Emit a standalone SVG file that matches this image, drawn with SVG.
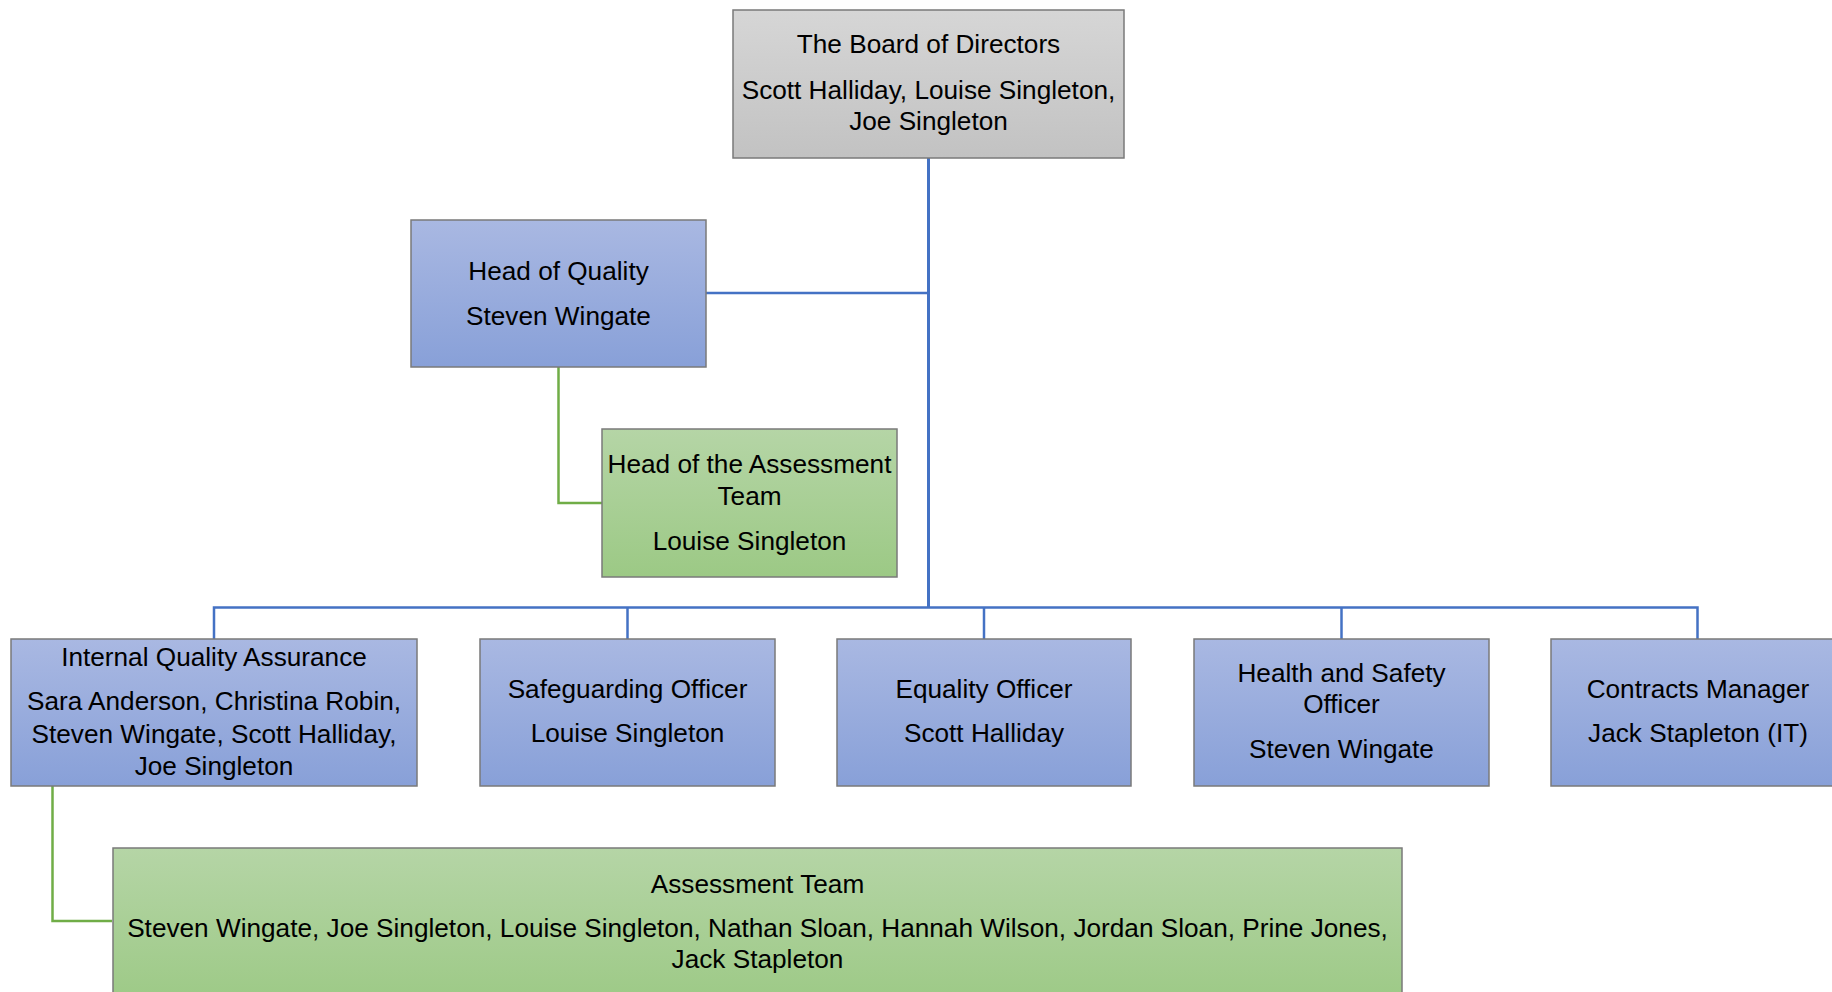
<svg xmlns="http://www.w3.org/2000/svg" width="1832" height="992" viewBox="0 0 1832 992">
<defs>
<linearGradient id="gGray" x1="0" y1="0" x2="0" y2="1"><stop offset="0" stop-color="#d6d6d6"/><stop offset="1" stop-color="#c2c2c2"/></linearGradient>
<linearGradient id="gBlue" x1="0" y1="0" x2="0" y2="1"><stop offset="0" stop-color="#a9b8e2"/><stop offset="1" stop-color="#88a0d8"/></linearGradient>
<linearGradient id="gGreen" x1="0" y1="0" x2="0" y2="1"><stop offset="0" stop-color="#b5d5a6"/><stop offset="1" stop-color="#9cc985"/></linearGradient>
<style>
.box{stroke:#7a7a7a;stroke-width:1.5}
.gray{fill:url(#gGray)}
.blue{fill:url(#gBlue)}
.green{fill:url(#gGreen)}
text{font-family:"Liberation Sans",Arial,sans-serif;font-size:26.2px;fill:#000;text-anchor:middle}
.cb{fill:none;stroke:#4472c4;stroke-width:2.5}
.cg{fill:none;stroke:#70ad47;stroke-width:2.5}
</style>
</defs>
<g id="connectors">
<path class="cb" d="M928.5 158V607.5" style="stroke-width:3"/>
<path class="cb" d="M706 293H928.5"/>
<path class="cb" d="M214 639V607.5H1697.5V639"/>
<path class="cb" d="M627.5 607.5V639"/>
<path class="cb" d="M984 607.5V639"/>
<path class="cb" d="M1341.5 607.5V639"/>
<path class="cg" d="M558.5 367V503H602"/>
<path class="cg" d="M52.5 786V921H112"/>
</g>
<g id="board">
<rect class="box gray" x="733" y="10" width="391" height="148"/>
<text x="928.5" y="53">The Board of Directors</text>
<text x="928.5" y="99">Scott Halliday, Louise Singleton,</text>
<text x="928.5" y="130">Joe Singleton</text>
</g>
<g id="head-quality">
<rect class="box blue" x="411" y="220" width="295" height="147"/>
<text x="558.5" y="280">Head of Quality</text>
<text x="558.5" y="325">Steven Wingate</text>
</g>
<g id="head-assessment">
<rect class="box green" x="602" y="429" width="295" height="148"/>
<text x="749.5" y="473">Head of the Assessment</text>
<text x="749.5" y="505">Team</text>
<text x="749.5" y="550">Louise Singleton</text>
</g>
<g id="iqa">
<rect class="box blue" x="11" y="639" width="406" height="147"/>
<text x="214" y="666">Internal Quality Assurance</text>
<text x="214" y="710">Sara Anderson, Christina Robin,</text>
<text x="214" y="743">Steven Wingate, Scott Halliday,</text>
<text x="214" y="775">Joe Singleton</text>
</g>
<g id="safeguarding">
<rect class="box blue" x="480" y="639" width="295" height="147"/>
<text x="627.5" y="698">Safeguarding Officer</text>
<text x="627.5" y="742">Louise Singleton</text>
</g>
<g id="equality">
<rect class="box blue" x="837" y="639" width="294" height="147"/>
<text x="984" y="698">Equality Officer</text>
<text x="984" y="742">Scott Halliday</text>
</g>
<g id="health-safety">
<rect class="box blue" x="1194" y="639" width="295" height="147"/>
<text x="1341.5" y="682">Health and Safety</text>
<text x="1341.5" y="713">Officer</text>
<text x="1341.5" y="758">Steven Wingate</text>
</g>
<g id="contracts">
<rect class="box blue" x="1551" y="639" width="295" height="147"/>
<text x="1698" y="698">Contracts Manager</text>
<text x="1698" y="742">Jack Stapleton (IT)</text>
</g>
<g id="assessment-team">
<rect class="box green" x="113" y="848" width="1289" height="160"/>
<text x="757.5" y="893">Assessment Team</text>
<text x="757.5" y="937">Steven Wingate, Joe Singleton, Louise Singleton, Nathan Sloan, Hannah Wilson, Jordan Sloan, Prine Jones,</text>
<text x="757.5" y="968">Jack Stapleton</text>
</g>
</svg>
